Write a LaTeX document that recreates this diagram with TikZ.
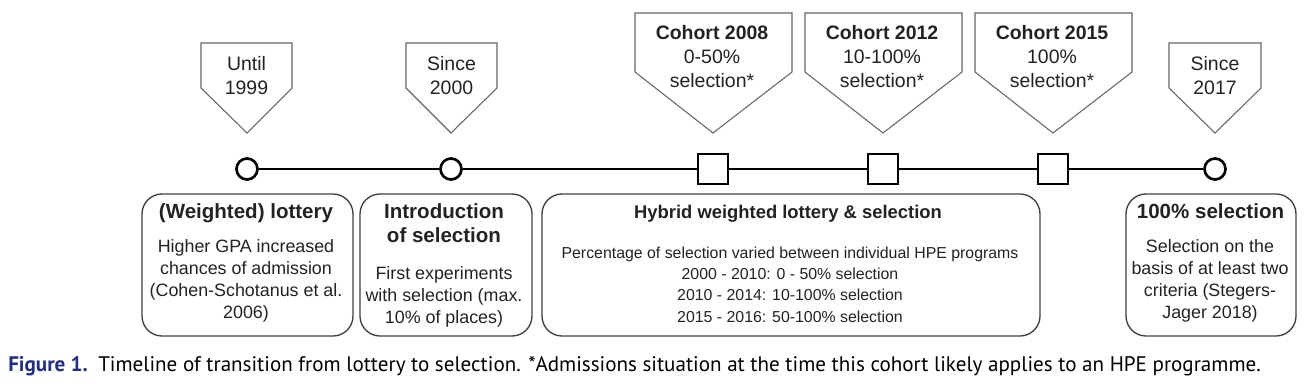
\documentclass[tikz,border=0pt]{standalone}
\usepackage{fontspec}
\setmainfont{Liberation Sans}
\newfontfamily\capfont{PT Sans}
\usetikzlibrary{positioning}
\definecolor{capblue}{RGB}{32,46,138}
\definecolor{inkgray}{RGB}{34,34,34}

\begin{document}
\begin{tikzpicture}[x=0.75pt,y=-0.75pt]
  \tikzstyle{flag}=[draw=black!60,line width=0.8pt]
  \tikzstyle{yr}=[align=center,inner sep=0pt,anchor=base,text=inkgray,font=\fontsize{14.6}{18}\selectfont]
  \tikzstyle{dot}=[circle,draw=black,line width=2pt,fill=white,minimum size=15.75pt,inner sep=0pt]
  \tikzstyle{tick}=[rectangle,draw=black,line width=0.8pt,fill=white,minimum size=22.5pt,inner sep=0pt]
  \tikzstyle{era}=[rectangle,rounded corners=15pt,draw=black!75,line width=1pt,minimum height=106.5pt,inner sep=0pt]
  \tikzstyle{head}=[align=center,inner sep=0pt,anchor=base,text=inkgray,font=\bfseries\fontsize{15.4}{18}\selectfont]
  \tikzstyle{body}=[align=center,inner sep=0pt,anchor=base,text=inkgray,font=\fontsize{13.4}{16.3}\selectfont]
  \useasboundingbox (0,0) rectangle (1306,386);

  % timeline
  \node[dot] (c1) at (247,169) {};
  \node[dot] (c2) at (451,169) {};
  \node[tick] (s1) at (713,169) {};
  \node[tick] (s2) at (883,169) {};
  \node[tick] (s3) at (1053,169) {};
  \node[dot] (c3) at (1215,169) {};
  \draw[line width=1.6pt] (c1) -- (c2) -- (s1) -- (s2) -- (s3) -- (c3);

  % flags above the line (anchor = last baseline)
  \draw[flag] (201,43) -- (292,43) -- (292,88) -- (247,133) -- (201,88) -- cycle;
  \node[yr] (y1) at (246.5,94) {Until\\1999};
  \draw[flag] (406,43) -- (497,43) -- (497,88) -- (451,133) -- (406,88) -- cycle;
  \node[yr] (y2) at (451.5,94) {Since\\2000};
  \draw[flag] (635,13) -- (792,13) -- (792,72) -- (713,133) -- (635,72) -- cycle;
  \node[yr] (y3) at (712,87) {\textbf{Cohort 2008}\\0-50\%\\selection*};
  \draw[flag] (805,13) -- (962,13) -- (962,72) -- (883,133) -- (805,72) -- cycle;
  \node[yr] (y4) at (882,87) {\textbf{Cohort 2012}\\10-100\%\\selection*};
  \draw[flag] (975,13) -- (1132,13) -- (1132,72) -- (1053,133) -- (975,72) -- cycle;
  \node[yr] (y5) at (1052,87) {\textbf{Cohort 2015}\\100\%\\selection*};
  \draw[flag] (1169,43) -- (1261,43) -- (1261,88) -- (1215,133) -- (1169,88) -- cycle;
  \node[yr] (y6) at (1215,94) {Since\\2017};

  % periods below the line
  \node[era,minimum width=158.25pt] (e1) at (247.5,265) {};
  \node[head] (h1) at (246,218) {(Weighted) lottery};
  \node[body] (b1) at (246,318) {Higher GPA increased\\chances of admission\\(Cohen-Schotanus et al.\\2006)};
  \node[era,minimum width=129pt] (e2) at (446,265) {};
  \node[head] (h2) at (444,242) {Introduction\\of selection};
  \node[body] (b2) at (444,323) {First experiments\\with selection (max.\\10\% of places)};
  \node[era,minimum width=373.5pt] (e3) at (791,265) {};
  \node[head,font=\bfseries\fontsize{13.8}{18}\selectfont] (h3) at (788,218) {Hybrid weighted lottery \& selection};
  \node[body,font=\fontsize{11.9}{16}\selectfont] (b3) at (790,322) {Percentage of selection varied between individual HPE programs\\2000 - 2010: 0 - 50\% selection\\2010 - 2014: 10-100\% selection\\2015 - 2016: 50-100\% selection};
  \node[era,minimum width=127.5pt] (e4) at (1211,265) {};
  \node[head] (h4) at (1210.5,218) {100\% selection};
  \node[body] (b4) at (1210,318) {Selection on the\\basis of at least two\\criteria (Stegers-\\Jager 2018)};

  % caption
  \node[anchor=base west,inner sep=0pt,text=capblue,font=\capfont\bfseries\fontsize{15.8}{18}\selectfont] (fig) at (8,371) {Figure 1.};
  \node[anchor=base west,inner sep=0pt,text=black,font=\capfont\fontsize{15.8}{18}\selectfont] (cap) at (98,371) {Timeline of transition from lottery to selection. *Admissions situation at the time this cohort likely applies to an HPE programme.};
\end{tikzpicture}
\end{document}
